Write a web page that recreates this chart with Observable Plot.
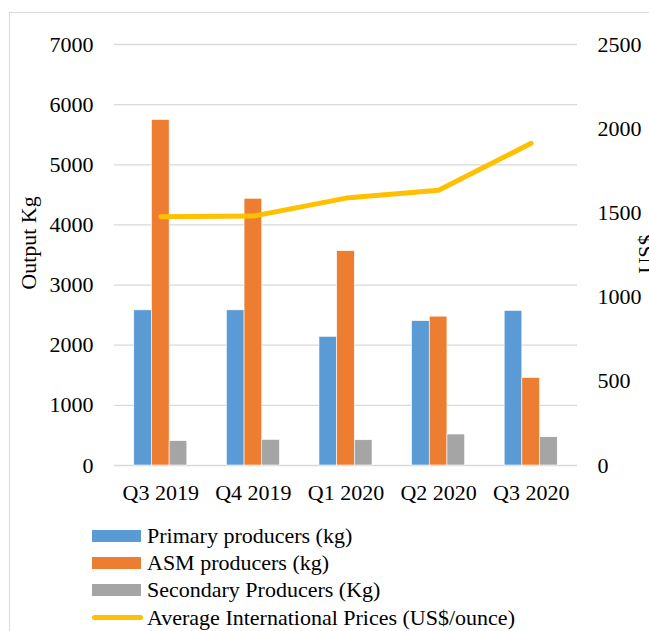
<!DOCTYPE html>
<html>
<head>
<meta charset="utf-8">
<script src="https://cdn.jsdelivr.net/npm/d3@7"></script>
<script src="https://cdn.jsdelivr.net/npm/@observablehq/plot@0.6"></script>
<style>
  html, body { margin: 0; padding: 0; background: #fff; }
  body { width: 649px; height: 631px; overflow: hidden; position: relative; font-family: "Liberation Serif", "Times New Roman", serif; }
  #frame { position: absolute; left: 9px; top: 12px; width: 800px; height: 800px; border: 1.5px solid #D9D9D9; box-sizing: border-box; }
  #chart { position: absolute; left: 0; top: 0; }
  #legend { position: absolute; left: 92px; top: 522px; font-size: 22px; color: #000; }
  .item { display: flex; align-items: center; height: 27.3px; white-space: nowrap; }
  .sw { width: 49px; height: 12px; margin-right: 6px; }
  .ln { width: 51px; height: 5.5px; border-radius: 3px; margin-right: 4px; }
</style>
</head>
<body>
<div id="frame"></div>
<div id="chart"></div>
<div id="legend"></div>
<script>
const categories = ["Q3 2019", "Q4 2019", "Q1 2020", "Q2 2020", "Q3 2020"];
const seriesNames = ["Primary producers (kg)", "ASM producers (kg)", "Secondary Producers (Kg)"];
const primary = [2580, 2580, 2140, 2400, 2570];
const asm = [5745, 4435, 3565, 2475, 1455];
const secondary = [405, 425, 420, 515, 470];
const prices = [1477, 1481, 1588, 1635, 1913];
const lineName = "Average International Prices (US$/ounce)";
const leftTicks = [0, 1000, 2000, 3000, 4000, 5000, 6000, 7000];
const rightTicks = [0, 500, 1000, 1500, 2000, 2500];
const colors = ["#5B9BD5", "#ED7D31", "#A5A5A5"];
const lineColor = "#FFC000";

const leftMax = 7000, rightMax = 2500;
const k = leftMax / rightMax;
const barW = 0.191, groupStart = -0.2865;

const seriesValues = [primary, asm, secondary];
const bars = [];
categories.forEach((c, i) => {
  seriesValues.forEach((vals, s) => {
    const x1 = i + groupStart + s * barW;
    bars.push({cat: c, series: seriesNames[s], value: vals[i], x1, x2: x1 + barW});
  });
});
const line = categories.map((c, i) => ({i, price: prices[i], y: prices[i] * k}));

const chart = Plot.plot({
  width: 649,
  height: 515,
  marginLeft: 114,
  marginRight: 72,
  marginTop: 44,
  marginBottom: 50,
  style: {fontFamily: "'Liberation Serif', 'Times New Roman', serif", fontSize: "22px", color: "#000", background: "transparent", overflow: "visible"},
  x: {domain: [-0.5, 4.5]},
  y: {domain: [0, leftMax]},
  color: {domain: seriesNames, range: colors},
  marks: [
    Plot.ruleY(leftTicks, {stroke: "#D9D9D9", strokeWidth: 1.3}),
    Plot.rectY(bars, {x1: "x1", x2: "x2", y1: 0, y2: "value", fill: "series", stroke: "white", strokeWidth: 0.6}),
    Plot.line(line, {x: "i", y: "y", stroke: lineColor, strokeWidth: 5, strokeLinecap: "round", strokeLinejoin: "round"}),
    Plot.axisY(leftTicks, {anchor: "left", tickSize: 0, tickPadding: 21, label: null, fill: "#000", fontSize: 22, tickFormat: d => String(d)}),
    Plot.axisY(rightTicks.map(v => v * k), {anchor: "right", tickSize: 0, tickPadding: 20, label: null, fill: "#000", fontSize: 22, tickFormat: d => String(Math.round(d / k))}),
    Plot.axisX(categories.map((c, i) => i), {anchor: "bottom", tickSize: 0, tickPadding: 19, label: null, fill: "#000", fontSize: 22, tickFormat: i => categories[i]}),
    Plot.text(["Output Kg"], {frameAnchor: "left", dx: -86, dy: -12, rotate: -90, fill: "#000", fontSize: 22, textAnchor: "middle", lineAnchor: "middle"}),
    Plot.text(["US$"], {frameAnchor: "right", dx: 60, dy: -1, rotate: -90, fill: "#000", fontSize: 22, textAnchor: "middle", lineAnchor: "top"})
  ]
});
document.getElementById("chart").appendChild(chart);

const legend = document.getElementById("legend");
seriesNames.forEach((name, s) => {
  const it = document.createElement("div");
  it.className = "item";
  const sw = document.createElement("span");
  sw.className = "sw";
  sw.style.background = colors[s];
  const t = document.createElement("span");
  t.textContent = name;
  it.appendChild(sw); it.appendChild(t);
  legend.appendChild(it);
});
const it = document.createElement("div");
it.className = "item";
const ln = document.createElement("span");
ln.className = "ln";
ln.style.background = lineColor;
const t = document.createElement("span");
t.textContent = lineName;
it.appendChild(ln); it.appendChild(t);
legend.appendChild(it);
</script>
</body>
</html>
